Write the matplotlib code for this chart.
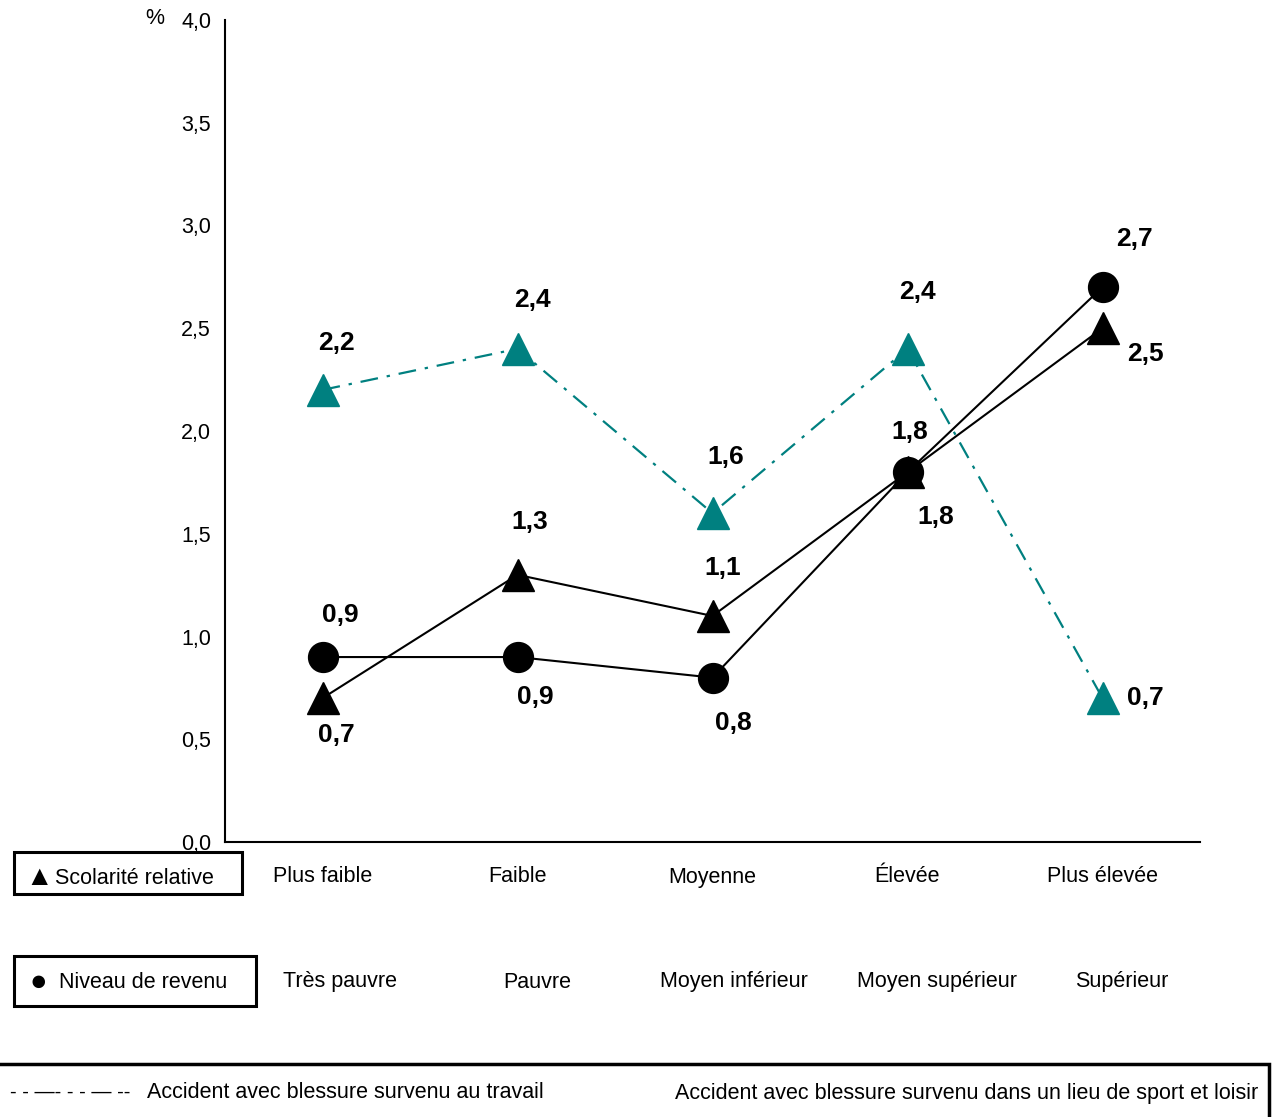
import numpy as np
import matplotlib.pyplot as plt
from matplotlib.patches import Rectangle

plt.rcParams['font.family'] = ['Liberation Sans', 'DejaVu Sans']

scolarite = ['Plus faible', 'Faible', 'Moyenne', 'Élevée', 'Plus élevée']
revenu = ['Très pauvre', 'Pauvre', 'Moyen inférieur', 'Moyen supérieur', 'Supérieur']

travail_scol = [2.2, 2.4, 1.6, 2.4, 0.7]      # teal, dash-dot
sport_scol = [0.7, 1.3, 1.1, 1.8, 2.5]        # black triangles
sport_rev = [0.9, 0.9, 0.8, 1.8, 2.7]         # black circles

# label offsets in pixels (dx, dy), dy positive = up
off_travail = [(14, 47), (15, 49), (13, 56), (10, 57), (43, 0)]
off_scol = [(14, -37), (12, 53), (10, 48), (28, -45), (43, -26)]
off_rev = [(18, 42), (18, -40), (21, -45), (2, 40), (32, 48)]

W, H = 1273, 1117
fig = plt.figure(figsize=(W / 100, H / 100), dpi=100)

def fx(px):
    return px / W

def fy(py):
    return 1 - py / H

ax = fig.add_axes([fx(225), fy(842), fx(1200) - fx(225), fy(20) - fy(842)])
x = np.arange(len(scolarite))
teal = '#008080'
fs = 15.5

ax.plot(x, travail_scol, color=teal, lw=1.6, dashes=(8, 4, 1.5, 4),
        marker='^', ms=23, mec=teal, mfc=teal)
ax.plot(x, sport_rev, color='black', lw=1.5, marker='o', ms=21.5)
ax.plot(x, sport_scol, color='black', lw=1.5, marker='^', ms=23)

def put_labels(vals, offs):
    for xi, v, (dx, dy) in zip(x, vals, offs):
        ax.annotate(f'{v:.1f}'.replace('.', ','), (xi, v),
                    xytext=(dx * 0.72, dy * 0.72), textcoords='offset points',
                    ha='center', va='center', fontsize=19, fontweight='bold')

put_labels(travail_scol, off_travail)
put_labels(sport_scol, off_scol)
put_labels(sport_rev, off_rev)

ax.set_xlim(-0.5, 4.5)
ax.set_ylim(0, 4.0)
ticks = np.arange(0, 4.01, 0.5)
ax.set_yticks(ticks)
ax.set_yticklabels([f'{t:.1f}'.replace('.', ',') for t in ticks])
ax.tick_params(axis='y', length=0, pad=10, labelsize=fs)
ax.set_xticks([])
for s in ['top', 'right']:
    ax.spines[s].set_visible(False)
for s in ['left', 'bottom']:
    ax.spines[s].set_linewidth(1.5)

# two rows of category names
tr = ax.get_xaxis_transform()
for xi, lab in zip(x, scolarite):
    ax.text(xi, -35 / 822, lab, transform=tr, ha='center', va='center', fontsize=fs)
rev_shift = [0.09, 0.1, 0.11, 0.15, 0.1]
for xi, lab, sh in zip(x, revenu, rev_shift):
    ax.text(xi + sh, -140 / 822, lab, transform=tr, ha='center', va='center', fontsize=fs)

fig.text(fx(155), fy(18), '%', ha='center', va='center', fontsize=fs)

# legend boxes
def box(x0, y0, x1, y1, lw):
    fig.add_artist(Rectangle((fx(x0), fy(y1)), fx(x1) - fx(x0), fy(y0) - fy(y1),
                             transform=fig.transFigure, fill=False,
                             edgecolor='black', lw=lw, clip_on=False))

box(14, 852, 242, 894, 2.2)
fig.text(fx(39), fy(878), '▲', ha='center', va='center', fontsize=20)
fig.text(fx(55), fy(879), 'Scolarité relative', ha='left', va='center', fontsize=fs)
box(14, 956, 256, 1006, 2.2)
fig.text(fx(38), fy(982), '●', ha='center', va='center', fontsize=21)
fig.text(fx(59), fy(983), 'Niveau de revenu', ha='left', va='center', fontsize=fs)

box(-5, 1064, 1269, 1130, 2.5)
fig.text(fx(10), fy(1093), '- - —- - - — --', ha='left', va='center', fontsize=14.5)
fig.text(fx(147), fy(1093), 'Accident avec blessure survenu au travail',
         ha='left', va='center', fontsize=fs)
fig.text(fx(675), fy(1093), 'Accident avec blessure survenu dans un lieu de sport et loisir',
         ha='left', va='center', fontsize=fs)

fig.savefig('out.png', dpi=100)
